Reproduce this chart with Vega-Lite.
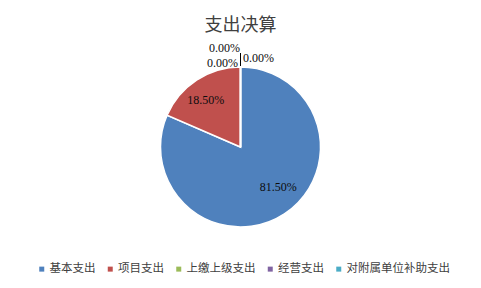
{
  "$schema": "https://vega.github.io/schema/vega-lite/v6.json",
  "width": 481,
  "height": 282,
  "autosize": {"type": "none"},
  "padding": {"left": 0, "top": 6, "right": 0, "bottom": 0},
  "background": "white",
  "config": {"view": {"stroke": null}},
  "title": {"text": "支出决算", "offset": -29, "fontSize": 18, "font": "Noto Sans CJK SC", "fontWeight": "normal", "color": "#404040", "anchor": "middle"},
  "data": {"values": [
    {"category": "基本支出", "value": 0.815},
    {"category": "项目支出", "value": 0.185},
    {"category": "上缴上级支出", "value": 0},
    {"category": "经营支出", "value": 0},
    {"category": "对附属单位补助支出", "value": 0}
  ]},
  "encoding": {
    "theta": {"field": "value", "type": "quantitative", "stack": true},
    "order": {"field": "value", "sort": "descending"}
  },
  "layer": [
    {
      "mark": {"type": "arc", "outerRadius": 80, "stroke": "white", "strokeWidth": 1.5},
      "encoding": {
        "color": {
          "field": "category", "type": "nominal",
          "scale": {
            "domain": ["基本支出", "项目支出", "上缴上级支出", "经营支出", "对附属单位补助支出"],
            "range": ["#4F81BD", "#C0504D", "#9BBB59", "#8064A2", "#4BACC6"]
          },
          "legend": {
            "orient": "none", "legendX": 36, "legendY": 257, "direction": "horizontal",
            "title": null, "symbolType": "square", "symbolSize": 25, "symbolStrokeWidth": 0,
            "labelFont": "Noto Sans CJK SC", "labelFontSize": 11.5, "labelColor": "#404040",
            "labelOffset": 2, "columnPadding": 8.5, "padding": 0
          }
        }
      }
    },
    {
      "transform": [{"filter": "datum.category === '上缴上级支出'"}],
      "mark": {"type": "arc", "outerRadius": 94, "innerRadius": 81, "filled": false, "stroke": "#000000", "strokeWidth": 1},
      "encoding": {}
    },
    {
      "transform": [{"filter": "datum.category === '基本支出'"}],
      "mark": {"type": "text", "radius": 58, "dx": 6, "dy": -8, "font": "Liberation Serif", "fontSize": 12, "color": "#0d0d0d"},
      "encoding": {"text": {"field": "value", "type": "quantitative", "format": ".2%"}}
    },
    {
      "transform": [{"filter": "datum.value > 0"}],
      "mark": {"type": "text", "radius": 58, "dx": -3, "dy": 1, "font": "Liberation Serif", "fontSize": 12, "color": "#0d0d0d"},
      "encoding": {
        "text": {"field": "value", "type": "quantitative", "format": ".2%"},
        "opacity": {"condition": {"test": "datum.category === '基本支出'", "value": 0}, "value": 1}
      }
    },
    {
      "transform": [{"filter": "datum.category === '上缴上级支出'"}],
      "mark": {"type": "text", "radius": 89, "dx": -16, "dy": -10, "font": "Liberation Serif", "fontSize": 12, "color": "#0d0d0d"},
      "encoding": {"text": {"field": "value", "type": "quantitative", "format": ".2%"}}
    },
    {
      "transform": [{"filter": "datum.category === '经营支出'"}],
      "mark": {"type": "text", "radius": 89, "dx": -18, "dy": 5, "font": "Liberation Serif", "fontSize": 12, "color": "#0d0d0d"},
      "encoding": {"text": {"field": "value", "type": "quantitative", "format": ".2%"}}
    },
    {
      "transform": [{"filter": "datum.category === '对附属单位补助支出'"}],
      "mark": {"type": "text", "radius": 89, "dx": 18, "dy": 0, "font": "Liberation Serif", "fontSize": 12, "color": "#0d0d0d"},
      "encoding": {"text": {"field": "value", "type": "quantitative", "format": ".2%"}}
    }
  ]
}
